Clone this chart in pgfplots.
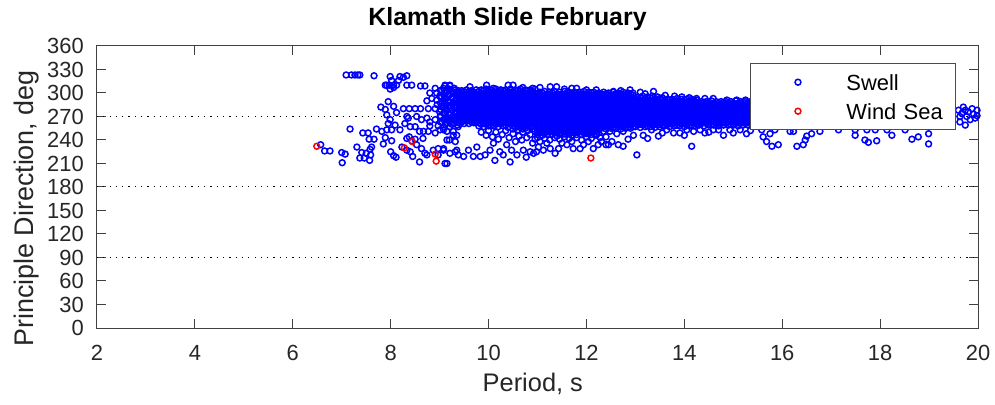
\documentclass[border=0pt]{standalone}
\usepackage{fontspec}
\setmainfont{Liberation Sans}
\usepackage{pgfplots}
\usepackage{pgfplotstable}
\pgfplotsset{compat=1.18}
\pgfplotsset{
  swell/.style={only marks, mark=o, mark size=2.95bp, color={rgb,1:red,0;green,0;blue,1},
    mark options={line width=1.5bp, solid},
    legend image code/.code={\path (-47bp,0bp) (48bp,0bp); \draw[##1] plot coordinates {(0bp,0bp)};}},
  windsea/.style={only marks, mark=o, mark size=2.95bp, color={rgb,1:red,1;green,0;blue,0},
    mark options={line width=1.5bp, solid},
    legend image code/.code={\path (-47bp,0bp) (48bp,0bp); \draw[##1] plot coordinates {(0bp,0bp)};}},
}
% dense core of the swell cloud: period, then directions
\pgfplotstableread{
9.02 263 271 279 287 295 303
9.08 266 274 282 290 298 306
9.14 261 269 277 285 293 301
9.20 265 273 281 289 297 305
9.26 262 270 278 286 294 302
9.32 266 274 282 290 298 304
9.36 259 268 276 284 292 300
}\tJ
\pgfplotstableread{
9.40 262 265 269 273 278 281 285 289 293 298 301
9.45 263 267 271 275 279 283 287 291 295 299 303
9.50 261 265 269 273 277 281 285 289 293 297 302
9.55 264 267 271 275 279 283 287 291 295 299 304
9.60 261 265 270 273 277 281 285 289 293 297 301
9.65 263 267 271 275 279 283 288 291 295 299 303
9.70 262 265 269 273 277 281 285 289 293 297 301
9.75 263 267 271 275 279 283 287 291 295 299 304
}\tA
\pgfplotstableread{
9.80 258 262 266 270 274 278 282 286 290 294 298 302
9.85 260 264 268 272 276 280 284 288 292 296 300 304
9.90 257 262 266 270 274 278 282 286 290 294 298 303
9.95 260 264 268 272 276 280 284 288 292 296 300 305
10.00 258 262 266 270 274 278 282 286 290 294 298 302
10.05 259 264 268 272 276 280 284 288 292 296 300 304
10.10 258 262 266 270 274 278 282 286 290 294 298 302
10.15 260 264 268 272 276 280 284 288 292 296 300 305
10.20 257 262 266 270 274 278 282 286 290 294 298 302
10.25 260 264 268 272 276 280 284 288 292 296 300 304
10.30 258 262 266 270 274 278 282 286 290 294 298 303
10.35 259 264 268 272 276 280 284 288 292 296 300 304
10.40 256 262 266 270 274 278 282 286 290 294 298 302
10.45 260 264 268 272 276 280 284 288 292 296 300 305
}\tB
\pgfplotstableread{
10.50 254 258 262 266 270 274 278 282 286 290 294 298 302
10.55 256 260 264 268 272 276 280 284 288 292 296 300 304
10.60 253 258 262 266 270 274 278 282 286 290 294 298 303
10.65 256 260 264 268 272 276 280 284 288 292 296 300 305
10.70 254 258 262 266 270 274 278 282 286 290 294 298 302
10.75 255 260 264 268 272 276 280 284 288 292 296 300 304
10.80 252 258 262 266 270 274 278 282 286 290 294 298 303
10.85 256 260 264 268 272 276 280 284 288 292 296 300 304
10.90 254 258 262 266 270 274 278 282 286 290 294 298 302
10.95 251 260 264 268 272 276 280 284 288 292 296 300 305
}\tC
\pgfplotstableread{
11.00 247 251 255 259 263 267 271 275 279 283 287 291 295 299
11.05 249 253 257 261 265 269 273 277 281 285 289 293 297 301
11.10 246 251 255 259 263 267 271 275 279 283 287 291 295 300
11.15 249 253 257 261 265 269 273 277 281 285 289 293 297 302
11.20 247 251 255 259 263 267 271 275 279 283 287 291 295 299
11.25 250 253 257 261 265 269 273 277 281 285 289 293 297 301
11.30 247 251 255 259 263 267 271 275 279 283 287 291 295 300
11.35 249 253 257 261 265 269 273 277 281 285 289 293 297 302
11.40 245 251 255 259 263 267 271 275 279 283 287 291 295 299
11.45 249 253 257 261 265 269 273 277 281 285 289 293 297 301
11.50 247 251 255 259 263 267 271 275 279 283 287 291 295 299
11.55 248 253 257 261 265 269 273 277 281 285 289 293 297 302
11.60 247 251 255 259 263 267 271 275 279 283 287 291 295 300
11.65 249 253 257 261 265 269 273 277 281 285 289 293 297 301
11.70 246 251 255 259 263 267 271 275 279 283 287 291 295 299
11.75 249 253 257 261 265 269 273 277 281 285 289 293 297 301
11.80 247 251 255 259 263 267 271 275 279 283 287 291 295 300
11.85 250 253 257 261 265 269 273 277 281 285 289 293 297 301
11.90 247 251 255 259 263 267 271 275 279 283 287 291 295 299
11.95 249 253 257 261 265 269 273 277 281 285 289 293 297 302
12.00 248 251 255 259 263 267 271 275 279 283 287 291 295 299
12.05 249 253 257 261 265 269 273 277 281 285 289 293 297 301
12.10 247 251 255 259 263 267 271 275 279 283 287 291 295 300
12.15 250 253 257 261 265 269 273 277 281 285 289 293 297 301
12.20 248 251 255 259 263 267 271 275 279 283 287 291 295 299
12.25 249 253 257 261 265 269 273 277 281 285 289 293 297 300
}\tD
\pgfplotstableread{
12.30 255 259 263 267 271 275 279 283 287 291 295 299
12.35 257 261 265 269 273 277 281 285 289 293 297 301
12.40 254 259 263 267 271 275 279 283 287 291 295 299
12.45 257 261 265 269 273 277 281 285 289 293 297 300
12.50 255 259 263 267 271 275 279 283 287 291 295 298
12.55 256 261 265 269 273 277 281 285 289 293 297 301
12.60 255 259 263 267 271 275 279 283 287 291 295 299
12.65 257 261 265 269 273 277 281 285 289 293 297 300
12.70 254 259 263 267 271 275 279 283 287 291 295 299
12.75 257 261 265 269 273 277 281 285 289 293 297 301
12.80 255 259 263 267 271 275 279 283 287 291 295 298
12.85 256 261 265 269 273 277 281 285 289 293 297 300
12.90 255 259 263 267 271 275 279 283 287 291 295 299
12.95 257 261 265 269 273 277 281 285 289 293 297 300
}\tE
\pgfplotstableread{
13.00 257 261 265 269 273 277 281 285 289 293
13.05 259 263 267 271 275 279 283 287 291 295
13.10 256 261 265 269 273 277 281 285 289 294
13.15 259 263 267 271 275 279 283 287 291 296
13.20 257 261 265 269 273 277 281 285 289 293
13.25 258 263 267 271 275 279 283 287 291 295
13.30 257 261 265 269 273 277 281 285 289 294
13.35 259 263 267 271 275 279 283 287 291 296
13.40 256 261 265 269 273 277 281 285 289 293
13.45 259 263 267 271 275 279 283 287 291 295
13.50 257 261 265 269 273 277 281 285 289 293
13.55 259 263 267 271 275 279 283 287 291 294
}\tF
\pgfplotstableread{
13.60 258 262 266 270 274 278 282 286 290
13.65 260 264 268 272 276 280 284 288 292
13.70 257 262 266 270 274 278 282 286 291
13.75 260 264 268 272 276 280 284 288 292
13.80 258 262 266 270 274 278 282 286 290
13.85 259 264 268 272 276 280 284 288 293
13.90 258 262 266 270 274 278 282 286 290
13.95 260 264 268 272 276 280 284 288 292
14.00 257 262 266 270 274 278 282 286 291
14.05 260 264 268 272 276 280 284 288 292
14.10 258 262 266 270 274 278 282 286 290
14.15 259 264 268 272 276 280 284 288 292
14.20 258 262 266 270 274 278 282 286 290
14.25 260 264 268 272 276 280 284 288 291
}\tG
\pgfplotstableread{
14.30 259 263 267 271 275 279 283 287
14.35 261 265 269 273 277 281 285 289
14.40 258 263 267 271 275 279 283 288
14.45 261 265 269 273 277 281 285 289
14.50 259 263 267 271 275 279 283 287
14.55 260 265 269 273 277 281 285 290
14.60 259 263 267 271 275 279 283 287
14.65 261 265 269 273 277 281 285 289
14.70 258 263 267 271 275 279 283 287
14.75 261 265 269 273 277 281 285 289
14.80 259 263 267 271 275 279 283 288
14.85 261 265 269 273 277 281 285 289
14.90 259 263 267 271 275 279 283 287
14.95 260 265 269 273 277 281 285 289
15.00 259 263 267 271 275 279 283 287
15.05 261 265 269 273 277 281 285 290
15.10 258 263 267 271 275 279 283 287
15.15 261 265 269 273 277 281 285 289
15.20 259 263 267 271 275 279 283 288
15.25 261 265 269 273 277 281 285 289
15.30 259 263 267 271 275 279 283 287
15.35 261 265 269 273 277 281 285 289
}\tH
\pgfplotstableread{
15.40 262 268 274 280 286
15.60 260 266 272 278 284
15.80 263 269 275 281 287
16.00 261 267 273 279 285
16.20 262 268 274 280 286
16.40 260 266 272 278 284
16.60 263 269 275 281 286
16.80 261 267 273 279 285
17.00 262 268 274 280 286
17.20 260 266 272 278 284
17.40 263 269 275 281 287
17.60 261 267 273 279 285
17.80 262 268 274 280 286
18.00 260 266 272 278 284
18.20 263 269 275 281 285
18.40 261 267 273 279 285
18.60 262 268 274 280 286
18.80 260 266 272 278 284
19.00 263 269 275 281 285
19.20 261 267 273 279 284
19.40 262 268 274 280 285
}\tI
\begin{document}
\begin{tikzpicture}
\useasboundingbox (-97bp,-77bp) rectangle (898bp,328bp);
\begin{axis}[
  at={(0,0)}, anchor=south west,
  scale only axis, width=881bp, height=282bp,
  xmin=2, xmax=20, ymin=0, ymax=360,
  xtick={2,4,...,20}, ytick={0,30,...,360},
  /pgf/number format/assume math mode=true,
  tick align=inside, major tick length=9bp,
  tick style={black!75, line width=1bp},
  axis line style={black!75, line width=1bp},
  axis on top,
  extra y ticks={90,180,270},
  extra y tick labels={{},{},{}},
  extra y tick style={grid=major, major tick length=0pt},
  major grid style={black, line width=1bp, dash pattern=on 1.2bp off 5.1bp},
  tick label style={font=\fontsize{22}{26}\selectfont, text=black!85},
  xticklabel style={anchor=north, inner sep=0pt, yshift=-17bp},
  yticklabel style={anchor=east, inner sep=0pt, xshift=-13bp},
  title={Klamath Slide February},
  title style={at={(axis description cs:0.466,1.0507)}, anchor=base, inner sep=0pt, font=\bfseries\fontsize{25}{30}\selectfont},
  xlabel={Period, s},
  xlabel style={at={(axis description cs:0.4947,-0.2259)}, anchor=base, inner sep=0pt, font=\fontsize{25.5}{30}\selectfont, text=black!85},
  ylabel={Principle Direction, deg},
  ylabel style={at={(axis description cs:-0.0723,0.4238)}, anchor=base, inner sep=0pt, font=\fontsize{27}{32}\selectfont, text=black!85},
  legend cell align=left,
  legend style={at={(axis description cs:0.975,0.9397)}, anchor=north east,
    draw=black!70, line width=1bp, fill=white,
    inner xsep=0pt, inner ysep=4.2bp, row sep=0pt, column sep=0pt,
    font=\fontsize{22}{26}\selectfont,
    nodes={inner sep=0pt, text height=22.4bp, text depth=6.6bp, text width=109bp, align=left}},
]
\addplot[swell] coordinates {
(7.09,323)(7.20,323)(7.27,323)(7.33,323)(7.37,323)(7.66,322)(7.99,321)(8.19,321)(8.26,320)(8.33,322)(8.02,316)(8.16,316)
(7.89,310)(7.92,310)(7.97,310)(8.06,310)(8.12,310)(7.99,305)(8.06,307)(8.33,310)(8.43,310)(8.61,309)(8.70,309)
(8.91,306)(8.80,300)(8.94,300)(9.04,304)(9.11,309)(9.21,309)(9.15,302)(9.27,300)(9.35,300)
(8.74,290)(8.84,293)(8.94,291)(9.04,295)(9.09,287)(9.18,289)(9.28,288)(9.38,287)
(7.95,289)(7.80,282)(7.89,279)(8.06,283)(8.12,275)(7.92,272)(7.99,266)(7.95,261)(7.92,253)(8.02,253)(8.09,259)(8.19,253)(8.29,261)(8.36,268)(8.33,270)(8.26,280)(8.38,280)(8.50,280)(8.61,280)(8.77,280)(8.91,280)
(8.53,270)(8.63,266)(8.74,268)(8.80,263)(8.91,266)(9.01,270)(9.11,274)(9.21,272)(9.32,274)(9.42,278)
(8.40,257)(8.50,257)(8.59,251)(8.67,251)(8.77,251)(8.80,258)(8.91,249)(9.01,253)(9.08,257)(9.15,251)(9.28,251)(9.38,257)(9.35,246)
(7.17,254)(7.43,249)(7.54,249)(7.71,254)(7.56,241)(7.66,241)(7.82,251)(7.89,243)(8.02,239)(7.85,235)(8.33,242)(8.38,244)(8.43,239)(8.50,241)(8.66,242)(8.53,234)(8.63,229)(8.70,223)(8.74,221)(8.40,225)(8.33,227)(8.45,219)(8.59,212)(8.23,231)
(6.57,234)(6.65,226)(6.76,226)(7.00,224)(7.07,222)(7.01,211)(7.31,231)(7.41,224)(7.50,223)(7.58,228)(7.61,231)(7.59,221)(7.37,217)(7.46,217)(7.57,214)
(8.00,225)(8.06,220)(8.11,218)
(8.87,227)(8.97,229)(9.08,227)(9.21,223)(9.32,225)(9.11,210)(9.38,221)(8.97,221)(9.20,240)(9.32,238)
(8.95,285)(9.00,296)(9.05,283)(9.10,292)(9.12,280)(9.18,297)(9.22,284)(9.25,294)(9.30,281)(9.33,291)(9.36,270)(9.38,262)(9.30,265)(9.25,260)(9.20,263)(9.15,266)(9.05,262)(9.00,276)(8.97,258)(9.10,300)(9.20,304)(9.30,306)(9.38,303)
(9.15,240)(9.08,229)(9.15,210)(9.35,227)(9.49,219)(9.59,227)(9.69,219)(9.76,231)(9.83,219)(9.93,221)(10.03,227)(10.10,236)(10.13,214)(10.23,225)(10.30,221)(10.37,234)(10.44,212)(10.47,227)(10.58,221)(10.68,240)(10.71,227)(10.77,218)(10.85,225)(10.92,223)(10.98,225)(11.02,231)(11.12,227)(11.19,236)(11.26,229)(11.36,223)(11.43,229)(11.50,236)(11.60,234)(11.70,238)(11.73,229)(11.87,229)(11.94,234)(12.04,238)(12.14,229)(12.24,234)(12.31,238)(12.40,234)
(9.08,253)(9.21,257)(9.28,246)(9.18,268)
(9.85,250)(9.95,246)(10.00,252)(10.08,244)(10.15,250)(10.20,241)(10.28,247)(10.35,252)(10.42,243)(10.50,248)(10.55,238)(10.62,245)(10.70,250)(10.78,243)(10.85,247)(10.90,236)(10.95,241)(11.00,243)(11.05,238)(11.15,242)(11.25,240)(11.35,243)(11.45,241)(11.55,244)(11.65,242)(11.80,243)(11.90,240)(12.00,244)(12.10,242)(12.20,246)(12.28,243)
(9.11,310)(9.21,310)(9.62,308)(9.96,310)(10.40,310)(10.50,310)(11.26,308)(11.39,308)(11.70,306)(11.80,306)(10.10,306)(10.70,307)(10.90,306)(11.05,307)(11.55,305)(12.00,304)(12.20,304)
(12.35,251)(12.48,251)(12.62,248)(12.75,251)(12.96,246)(13.16,246)(13.33,253)(13.47,245)(13.64,253)(13.78,249)(13.91,249)(14.05,253)(14.19,251)(14.32,253)(14.42,249)(14.59,253)(14.70,253)(14.80,246)(14.93,253)(15.14,253)(15.27,248)
(12.31,238)(12.45,234)(12.52,238)(12.65,234)(12.75,232)(13.03,221)(14.15,232)
(12.89,304)(13.37,302)(13.61,297)(13.95,295)(14.25,293)(14.42,293)(14.59,293)(14.87,291)(15.07,291)(15.25,291)
(12.55,302)(12.70,303)(13.10,301)(13.20,299)(13.80,296)(14.10,294)
(12.40,244)(12.85,241)(13.25,242)(13.55,249)(14.00,246)(14.50,250)(15.00,249)(15.35,252)
(15.58,253)(15.61,244)(15.68,238)(15.79,232)(15.92,234)(15.75,248)(15.85,253)(16.16,251)(16.23,251)(16.30,232)(16.43,234)(16.47,240)(16.50,245)(16.60,248)(16.77,251)(17.15,253)(17.49,246)(17.49,253)(17.69,240)(17.76,237)(17.93,239)(17.73,253)(17.90,253)(18.24,246)(18.14,253)(18.51,253)(18.65,241)(18.78,244)(18.99,248)(18.99,235)
(19.60,278)(19.67,274)(19.74,278)(19.80,276)(19.91,273)(19.98,278)(19.98,271)(19.63,263)(19.74,259)(19.84,266)(19.94,268)(19.77,270)(19.63,270)(19.70,282)(19.88,280)
};
\addlegendentry{Swell}
\pgfplotsinvokeforeach{1,...,6}{\addplot[swell,forget plot] table[x index=0,y index=#1]{\tJ};}
\pgfplotsinvokeforeach{1,...,11}{\addplot[swell,forget plot] table[x index=0,y index=#1]{\tA};}
\pgfplotsinvokeforeach{1,...,12}{\addplot[swell,forget plot] table[x index=0,y index=#1]{\tB};}
\pgfplotsinvokeforeach{1,...,13}{\addplot[swell,forget plot] table[x index=0,y index=#1]{\tC};}
\pgfplotsinvokeforeach{1,...,14}{\addplot[swell,forget plot] table[x index=0,y index=#1]{\tD};}
\pgfplotsinvokeforeach{1,...,12}{\addplot[swell,forget plot] table[x index=0,y index=#1]{\tE};}
\pgfplotsinvokeforeach{1,...,10}{\addplot[swell,forget plot] table[x index=0,y index=#1]{\tF};}
\pgfplotsinvokeforeach{1,...,9}{\addplot[swell,forget plot] table[x index=0,y index=#1]{\tG};}
\pgfplotsinvokeforeach{1,...,8}{\addplot[swell,forget plot] table[x index=0,y index=#1]{\tH};}
\pgfplotsinvokeforeach{1,...,5}{\addplot[swell,forget plot] table[x index=0,y index=#1]{\tI};}
\addplot[windsea] coordinates {(6.49,232)(8.44,238)(8.28,230)(8.91,222)(8.93,213)(12.09,217)};
\addlegendentry{Wind Sea}
\end{axis}
\end{tikzpicture}
\end{document}
